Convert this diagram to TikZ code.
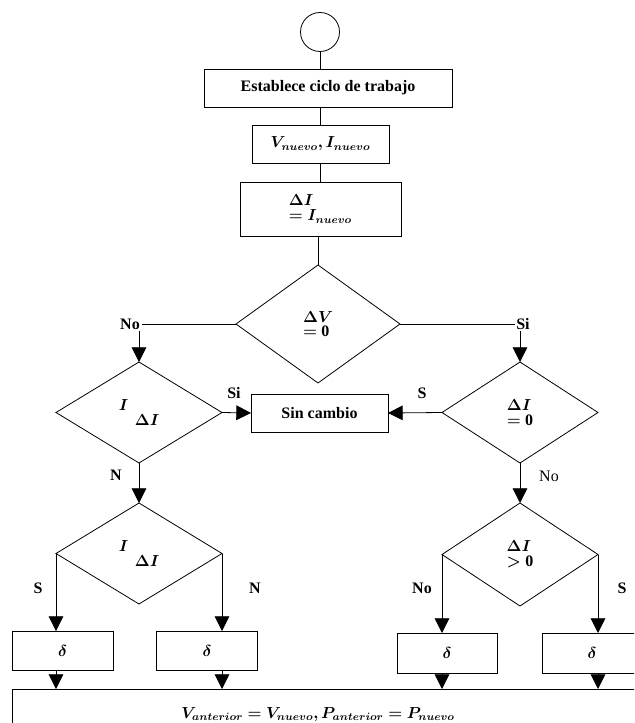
\documentclass[tikz,border=0pt]{standalone}
\usepackage{fontspec}
\setmainfont{Liberation Serif}
\usepackage{amsmath,bm}
\usetikzlibrary{shapes.geometric, arrows.meta}

\begin{document}
\begin{tikzpicture}[x=0.75pt, y=-0.75pt,
					line width=0.6pt,
					font=\fontsize{12}{13}\selectfont\bfseries,
					>={Triangle[length=11pt, width=11pt]},
					caja/.style={draw, rectangle, inner sep=2pt, outer sep=0pt},
					rombo/.style={draw, diamond, inner sep=0pt, outer sep=0pt, align=left},
					etiq/.style={inner sep=1pt}]

	\useasboundingbox (0,0) rectangle (634,723);
	\clip (0,0) rectangle (634,723);

	\node[draw, circle, minimum size=29.25pt, inner sep=0pt] (ini) at (320,32) {};
	\node[caja, minimum width=186pt, minimum height=28.5pt] (est) at (328,88) {Establece ciclo de trabajo};
	\node[caja, minimum width=102.75pt, minimum height=28.5pt] (vin) at (320.5,144) {$\bm{V_{nuevo}, I_{nuevo}}$};
	\node[caja, minimum width=120.75pt, minimum height=40.5pt, align=left] (di) at (320.5,209) {$\bm{\Delta I}$\\[-2pt]$\bm{= I_{nuevo}}$};
	\node[rombo, minimum width=123pt, minimum height=88.5pt] (dv) at (318,324) {$\bm{\Delta V}$\\[-2pt]$\bm{=}\mathbf{0}$};

	\node[etiq] (lno) at (130,324) {No};
	\node[etiq] (lsi) at (523,324) {Si};

	\node[rombo, minimum width=124.5pt, minimum height=75.75pt] (d1) at (139,412.5) {$\bm{I}$\\[-2pt]\quad$\bm{\Delta I}$};
	\node[caja, minimum width=102.75pt, minimum height=28.5pt] (sc) at (319.5,413) {Sin cambio};
	\node[rombo, minimum width=117pt, minimum height=75.75pt] (r1) at (520,412.5) {$\bm{\Delta I}$\\[-2pt]$\bm{=}\mathbf{0}$};

	\node[rombo, minimum width=124.5pt, minimum height=75.75pt] (d2) at (139,553.5) {$\bm{I}$\\[-2pt]\quad$\bm{\Delta I}$};
	\node[rombo, minimum width=117pt, minimum height=77.25pt] (r2) at (520,554.5) {$\bm{\Delta I}$\\[-2pt]$\bm{>}\mathbf{0}$};

	\node[caja, minimum width=75.75pt, minimum height=29.25pt] (b1) at (62.5,650.5) {$\bm{\delta}$};
	\node[caja, minimum width=75.75pt, minimum height=29.25pt] (b2) at (207,650.5) {$\bm{\delta}$};
	\node[caja, minimum width=75pt, minimum height=30pt] (b3) at (447,653) {$\bm{\delta}$};
	\node[caja, minimum width=75pt, minimum height=30pt] (b4) at (592,653) {$\bm{\delta}$};

	\node[caja, minimum width=478.5pt, minimum height=38.25pt] (fin) at (331,714.5)
		{\kern-19.5pt$\bm{V_{anterior} = V_{nuevo}, P_{anterior} = P_{nuevo}}$};

	% etiquetas de las ramas
	\node[etiq] (si1) at (234,393) {Si};
	\node[etiq] (s1) at (422,393) {S};
	\node[etiq] (n1) at (116,475) {N};
	\node[etiq, font=\fontsize{12}{13}\selectfont] (no1) at (549,476) {No};
	\node[etiq] (s2) at (38,588) {S};
	\node[etiq] (n2) at (255,588) {N};
	\node[etiq] (no2) at (422,588) {No};
	\node[etiq] (s3) at (622,588) {S};

	\draw	(ini) -- (ini |- est.north)
			(ini |- est.south) -- (ini |- vin.north)
			(ini |- vin.south) -- (ini |- di.north)
			(dv |- di.south) -- (dv.north)
			(dv.west) -- (lno.east)
			(dv.east) -- (lsi.west);

	\draw[->] (lno.south -| d1.north) -- (d1.north);
	\draw[->] (lsi.south -| r1.north) -- (r1.north);
	\draw[->] (d1.east) -- (sc.west);
	\draw[->] (r1.west) -- (sc.east);
	\draw[->] (d1.south) -- (d2.north);
	\draw[->] (r1.south) -- (r2.north);

	\draw[->] (d2.west) -- (d2.west |- b1.north);
	\draw[->] (d2.east) -- (d2.east |- b2.north);
	\draw[->] (r2.west) -- (r2.west |- b3.north);
	\draw[->] (r2.east) -- (r2.east |- b4.north);

	\draw[->] (d2.west |- b1.south) -- (d2.west |- fin.north);
	\draw[->] (d2.east |- b2.south) -- (d2.east |- fin.north);
	\draw[->] (r2.west |- b3.south) -- (r2.west |- fin.north);
	\draw[->] (r2.east |- b4.south) -- (r2.east |- fin.north);
\end{tikzpicture}
\end{document}
